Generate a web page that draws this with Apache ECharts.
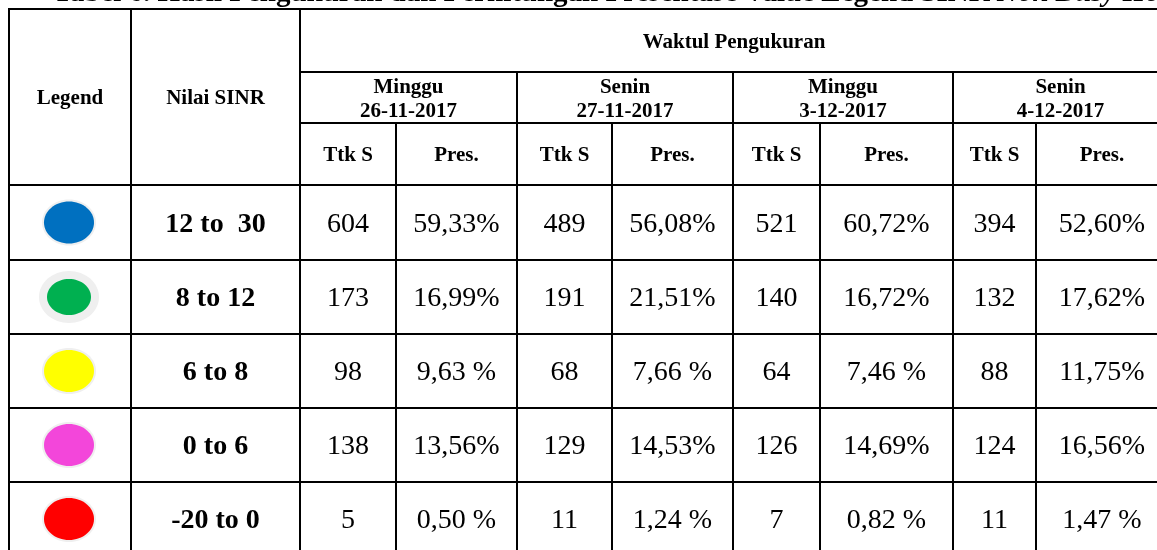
<!DOCTYPE html>
<html>
<head>
<meta charset="utf-8">
<script src="https://cdn.jsdelivr.net/npm/echarts@6/dist/echarts.min.js"></script>
<style>
  html, body { margin: 0; padding: 0; background: #fff; }
  #main { width: 1157px; height: 550px; }
</style>
</head>
<body>
<div id="main"></div>
<script>
var sinrRanges = ['12 to  30', '8 to 12', '6 to 8', '0 to 6', '-20 to 0'];
var days = ['Minggu', 'Senin', 'Minggu', 'Senin'];
var dates = ['26-11-2017', '27-11-2017', '3-12-2017', '4-12-2017'];
var subCols = ['Ttk S', 'Pres.'];
var ttk26 = [604, 173, 98, 138, 5];
var pres26 = ['59,33%', '16,99%', '9,63 %', '13,56%', '0,50 %'];
var ttk27 = [489, 191, 68, 129, 11];
var pres27 = ['56,08%', '21,51%', '7,66 %', '14,53%', '1,24 %'];
var ttk03 = [521, 140, 64, 126, 7];
var pres03 = ['60,72%', '16,72%', '7,46 %', '14,69%', '0,82 %'];
var ttk04 = [394, 132, 88, 124, 11];
var pres04 = ['52,60%', '17,62%', '11,75%', '16,56%', '1,47 %'];

var ttkAll = [ttk26, ttk27, ttk03, ttk04];
var presAll = [pres26, pres27, pres03, pres04];

// layout (pixel grid, value axes map 1:1)
var colX = [9, 131, 300, 396, 517, 612, 733, 820, 953, 1036, 1168];
var headY = [9, 72, 123, 185];
var rowY = [185, 260, 334, 408, 482, 556];
var dotColors = ['#0070C0', '#00B050', '#FFFF00', '#F346DA', '#FF0000'];

var serif = '"Liberation Serif", "Times New Roman", serif';
var headFont = 'bold 21px ' + serif;
var bodyFont = '28px ' + serif;
var rangeFont = 'bold 28px ' + serif;

function cellGroup(api, x0, y0, x1, y1, text, font, extra) {
  var p0 = api.coord([x0, y0]);
  var p1 = api.coord([x1, y1]);
  var children = [{
    type: 'rect',
    shape: { x: p0[0], y: p0[1], width: p1[0] - p0[0], height: p1[1] - p0[1] },
    style: { fill: 'none', stroke: '#000', lineWidth: 2 }
  }];
  if (extra) children = children.concat(extra);
  if (text !== null) {
    children.push({
      type: 'text',
      x: (p0[0] + p1[0]) / 2,
      y: (p0[1] + p1[1]) / 2 + 2,
      style: {
        text: text, font: font, fill: '#000',
        align: 'center', verticalAlign: 'middle', lineHeight: 24
      }
    });
  }
  return { type: 'group', children: children };
}

// header cells
var headCells = [];
headCells.push({ c0: 0, c1: 1, h0: 0, h1: 3, text: 'Legend' });
headCells.push({ c0: 1, c1: 2, h0: 0, h1: 3, text: 'Nilai SINR' });
headCells.push({ c0: 2, c1: 10, h0: 0, h1: 1, text: 'Waktul Pengukuran' });
days.forEach(function (d, i) {
  headCells.push({ c0: 2 + i * 2, c1: 4 + i * 2, h0: 1, h1: 2, text: d + '\n' + dates[i] });
  subCols.forEach(function (s, j) {
    headCells.push({ c0: 2 + i * 2 + j, c1: 3 + i * 2 + j, h0: 2, h1: 3, text: s });
  });
});

// body cells
var bodyCells = [];
sinrRanges.forEach(function (r, ri) {
  bodyCells.push({ c: 0, r: ri, text: null, dot: ri });
  bodyCells.push({ c: 1, r: ri, text: r, font: rangeFont });
  for (var d = 0; d < 4; d++) {
    bodyCells.push({ c: 2 + d * 2, r: ri, text: String(ttkAll[d][ri]), font: bodyFont });
    bodyCells.push({ c: 3 + d * 2, r: ri, text: presAll[d][ri], font: bodyFont });
  }
});

var chart = echarts.init(document.getElementById('main'));
var option = {
  animation: false,
  backgroundColor: '#fff',
  grid: { left: 0, right: 0, top: 0, bottom: 0 },
  xAxis: { type: 'value', min: 0, max: 1157, show: false },
  yAxis: { type: 'value', min: 0, max: 550, inverse: true, show: false },
  graphic: [{
    type: 'text',
    x: 53,
    y: -6,
    style: {
      text: '{b|Tabel 6. Hasil Pengukuran dan Perhitungan Presentase Value Legend SINR }{i|Non Busy Hour}',
      verticalAlign: 'middle',
      rich: {
        b: { font: 'bold 29px ' + serif, fill: '#000' },
        i: { font: 'italic bold 29px ' + serif, fill: '#000' }
      }
    }
  }],
  series: [
    {
      type: 'custom',
      name: 'header',
      coordinateSystem: 'cartesian2d',
      data: headCells.map(function (c, i) { return [i, 0]; }),
      renderItem: function (params, api) {
        var c = headCells[params.dataIndex];
        return cellGroup(api, colX[c.c0], headY[c.h0], colX[c.c1], headY[c.h1], c.text, headFont);
      }
    },
    {
      type: 'custom',
      name: 'body',
      coordinateSystem: 'cartesian2d',
      data: bodyCells.map(function (c) { return [c.c, c.r]; }),
      renderItem: function (params, api) {
        var c = bodyCells[params.dataIndex];
        var col = api.value(0), row = api.value(1);
        var extra = null;
        if (c.dot !== undefined) {
          var p0 = api.coord([colX[0], rowY[row]]);
          var p1 = api.coord([colX[1], rowY[row + 1]]);
          var cx = (p0[0] + p1[0]) / 2 - 1;
          var cy = (p0[1] + p1[1]) / 2;
          var small = c.dot === 1;
          var rx = small ? 22 : 25, ry = small ? 18 : 21;
          var halo = small ? 8 : 2;
          extra = [{
            type: 'ellipse',
            shape: { cx: cx, cy: cy, rx: rx + halo, ry: ry + halo },
            style: { fill: '#efefef' }
          }, {
            type: 'ellipse',
            shape: { cx: cx, cy: cy, rx: rx, ry: ry },
            style: { fill: dotColors[c.dot] }
          }];
        }
        return cellGroup(api, colX[col], rowY[row], colX[col + 1], rowY[row + 1], c.text, c.font, extra);
      }
    }
  ]
};
chart.setOption(option);
</script>
</body>
</html>
